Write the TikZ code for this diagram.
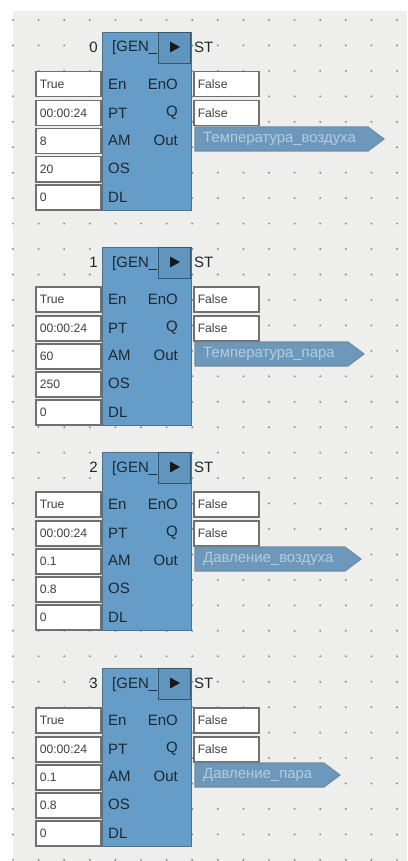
\documentclass[tikz,border=0pt]{standalone}
\usepackage{fontspec}
\setmainfont{Liberation Sans}
\definecolor{bgc}{HTML}{EEEEEC}
\definecolor{dotc}{HTML}{8F8F8D}
\definecolor{blockc}{HTML}{659DC8}
\definecolor{playc}{HTML}{5F95BF}
\definecolor{outc}{HTML}{6C98BC}
\definecolor{edgec}{HTML}{4F7186}
\definecolor{playe}{HTML}{36566C}
\definecolor{boxe}{HTML}{707070}
\definecolor{outt}{HTML}{B4CCDF}
\definecolor{txt}{HTML}{1F282E}
\tikzset{
  x=1pt,y=-1pt,
  griddot/.style={fill=dotc,draw=none},
  fb/.style={draw=edgec,line width=1.4pt,fill=blockc,anchor=north west,minimum width=89pt,minimum height=178pt,inner sep=0pt},
  playbox/.style={draw=playe,line width=1.4pt,fill=playc,anchor=north east,minimum width=32pt,minimum height=31pt,inner sep=0pt},
  playtri/.style={fill=black!90,draw=none},
  valbox/.style={draw=boxe,line width=1.5pt,fill=white,anchor=north west,minimum width=65pt,minimum height=25pt,inner sep=0pt,text width=57pt,align=left,font=\fontsize{12.2}{14}\selectfont,text=black!75},
  pinl/.style={anchor=west,inner sep=0pt,font=\fontsize{15}{17}\selectfont,text=txt},
  pinr/.style={anchor=east,inner sep=0pt,font=\fontsize{15}{17}\selectfont,text=txt},
  idx/.style={anchor=east,inner sep=0pt,font=\fontsize{15}{17}\selectfont,text=txt},
  stl/.style={anchor=west,inner sep=0pt,font=\fontsize{15}{17}\selectfont,text=txt},
  gent/.style={anchor=base west,inner sep=0pt,font=\fontsize{15}{17}\selectfont,text=txt},
  outflag/.style={draw=edgec!80,line width=1.1pt,fill=outc},
  outtext/.style={anchor=west,inner sep=0pt,font=\fontsize{14.9}{17}\selectfont,text=outt},
}
% #1 id, #2 top y, #3 index, #4 AM, #5 OS, #6 signal, #7 tip x
\newcommand{\genblock}[7]{%
  \node[valbox] (v#1a) at (35,#2+39) {True};
  \node[valbox] (v#1b) at (35,#2+68) {00:00:24};
  \node[valbox] (v#1c) at (35,#2+96) {#4};
  \node[valbox] (v#1d) at (35,#2+124) {#5};
  \node[valbox] (v#1e) at (35,#2+152) {0};
  \node[valbox] (q#1a) at (193,#2+39) {False};
  \node[valbox] (q#1b) at (193,#2+68) {False};
  \draw[outflag] (195,#2+95) -- (#7-16,#2+95) -- (#7,#2+107) -- (#7-16,#2+119) -- (195,#2+119) -- cycle;
  \node[outtext] (s#1) at (203,#2+107) {#6};
  \node[fb] (b#1) at (102,#2) {};
  \node[gent] (g#1) at (112,#2+20) {[GEN\_};
  \node[playbox] (p#1) at (191,#2) {};
  \fill[playtri] (170,#2+9.5) -- (180,#2+15) -- (170,#2+20.5) -- cycle;
  \node[idx] (i#1) at (98,#2+15) {#3};
  \node[stl] (t#1) at (194,#2+15) {ST};
  \node[pinl] (en#1) at (108,#2+52) {En};
  \node[pinl] (pt#1) at (108,#2+81) {PT};
  \node[pinl] (am#1) at (108,#2+108) {AM};
  \node[pinl] (os#1) at (108,#2+136) {OS};
  \node[pinl] (dl#1) at (108,#2+165) {DL};
  \node[pinr] (eo#1) at (178,#2+52) {EnO};
  \node[pinr] (qq#1) at (178,#2+81) {Q};
  \node[pinr] (ou#1) at (178,#2+108) {Out};
}
\begin{document}
\begin{tikzpicture}
\useasboundingbox (0,0) rectangle (407,861);
\fill[white] (0,0) rectangle (407,861);
\fill[bgc] (13,11) rectangle (407,861);
\foreach \i in {0,...,15}{
  \foreach \j in {0,...,33}{
    \path[griddot] (13+25.6*\i,20+25.45*\j) circle[radius=1.1pt];
  }
}
\genblock{0}{32}{0}{8}{20}{Температура\_воздуха}{384}
\genblock{1}{247}{1}{60}{250}{Температура\_пара}{364}
\genblock{2}{452}{2}{0.1}{0.8}{Давление\_воздуха}{361}
\genblock{3}{668}{3}{0.1}{0.8}{Давление\_пара}{340}
\end{tikzpicture}
\end{document}
